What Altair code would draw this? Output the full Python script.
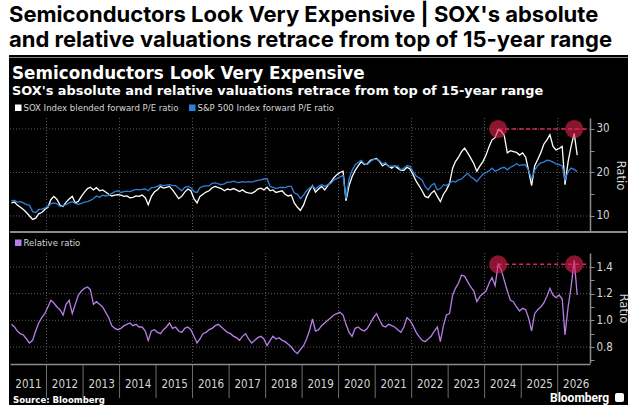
import altair as alt
import pandas as pd

# ---------------- data ----------------
HEAD1 = "Semiconductors Look Very Expensive | SOX's absolute"
HEAD2 = "and relative valuations retrace from top of 15-year range"
TITLE = "Semiconductors Look Very Expensive"
SUBTITLE = "SOX's absolute and relative valuations retrace from top of 15-year range"
LEG_SOX = "SOX Index blended forward P/E ratio"
LEG_SPX = "S&P 500 Index forward P/E ratio"
LEG_REL = "Relative ratio"
SOURCE = "Source:  Bloomberg"
BRAND = "Bloomberg"

# monthly observations, Jan 2011 .. Jul 2026
dates = [f"{y}-{m:02d}-15" for y in range(2011, 2027) for m in range(1, 13)][:187]

sox = [
    13.0, 13.2, 12.5, 12.0, 11.5, 10.8, 10.0, 9.2, 9.5, 10.5, 10.8, 11.5,   # 2011
    12.0, 13.8, 14.5, 13.8, 12.5, 12.2, 13.2, 13.9, 14.5, 13.0, 13.4, 14.5,  # 2012
    15.5, 16.3, 16.6, 16.0, 16.5, 15.8, 16.0, 15.5, 15.0, 14.6, 14.8, 14.9,  # 2013
    14.8, 14.5, 14.6, 14.2, 14.3, 14.6, 14.5, 14.8, 14.2, 12.6, 14.5, 15.5,  # 2014
    16.0, 16.8, 16.4, 16.6, 16.8, 16.0, 15.0, 14.0, 14.5, 15.5, 16.2, 15.8,  # 2015
    14.0, 13.0, 14.5, 15.0, 15.5, 15.8, 16.5, 16.8, 16.5, 16.3, 15.8, 16.2,  # 2016
    16.0, 16.3, 16.0, 15.6, 16.0, 15.5, 15.3, 15.2, 15.6, 16.2, 16.4, 16.0,  # 2017
    16.6, 15.8, 16.0, 15.4, 15.6, 15.8, 15.0, 14.6, 14.8, 13.0, 12.0, 11.3,  # 2018
    12.5, 14.5, 15.8, 17.0, 15.5, 16.2, 16.8, 16.0, 17.0, 17.8, 18.8, 19.5,  # 2019
    20.0, 20.3, 13.5, 17.0, 19.0, 20.5, 21.5, 22.5, 21.8, 22.0, 22.8, 23.0,  # 2020
    23.2, 22.5, 21.5, 22.0, 21.5, 21.0, 21.5, 21.0, 20.5, 20.5, 21.2, 20.8,  # 2021
    19.5, 18.0, 17.0, 15.8, 14.5, 14.2, 15.2, 15.8, 14.5, 13.3, 15.0, 16.0,  # 2022
    17.5, 21.0, 22.5, 23.5, 24.8, 25.6, 24.5, 23.3, 22.0, 20.3, 21.5, 22.5,  # 2023
    24.0, 26.0, 27.5, 28.0, 29.8, 29.5, 28.5, 24.5, 25.0, 24.8, 24.6, 24.0,  # 2024
    24.5, 23.5, 20.5, 17.0, 21.5, 23.0, 24.5, 26.5, 27.5, 28.7, 26.0, 25.2,  # 2025
    25.5, 26.0, 17.2, 22.5, 26.0, 29.0, 24.0,                                # 2026
]

spx = [
    13.5, 13.6, 13.2, 13.3, 13.0, 12.6, 12.5, 11.0, 10.8, 11.5, 11.6, 11.8,  # 2011
    12.2, 12.8, 13.0, 12.8, 12.2, 12.4, 12.6, 13.0, 13.3, 12.9, 12.7, 12.9,  # 2012
    13.2, 13.3, 13.6, 14.0, 14.6, 14.3, 14.8, 14.6, 14.8, 15.2, 15.6, 15.8,  # 2013
    15.4, 15.6, 15.7, 15.6, 15.9, 16.1, 16.0, 16.1, 16.2, 15.8, 16.5, 16.6,  # 2014
    16.8, 17.2, 17.0, 17.1, 17.2, 17.0, 17.0, 16.4, 15.8, 16.6, 16.8, 16.5,  # 2015
    15.6, 15.4, 16.5, 16.8, 16.9, 16.9, 17.5, 17.6, 17.4, 17.2, 17.4, 17.8,  # 2016
    17.8, 18.0, 17.8, 17.7, 17.9, 17.8, 17.9, 17.8, 18.0, 18.2, 18.3, 18.5,  # 2017
    18.6, 16.8, 16.6, 16.3, 16.5, 16.6, 16.5, 16.8, 16.8, 15.3, 15.0, 14.0,  # 2018
    14.8, 15.8, 16.4, 16.9, 16.2, 16.8, 17.2, 16.8, 17.2, 17.5, 18.3, 18.6,  # 2019
    19.0, 19.3, 14.0, 18.5, 20.5, 21.8, 22.3, 22.8, 22.0, 21.8, 22.5, 23.0,  # 2020
    23.0, 22.7, 22.0, 22.3, 21.3, 21.5, 21.4, 21.5, 20.6, 21.0, 21.6, 21.4,  # 2021
    20.2, 19.2, 18.8, 18.3, 16.8, 16.0, 17.0, 17.5, 16.0, 16.3, 17.2, 17.0,  # 2022
    17.6, 18.0, 17.8, 18.3, 18.5, 19.2, 19.8, 19.0, 18.5, 17.9, 18.8, 19.6,  # 2023
    20.0, 20.4, 21.0, 20.3, 20.6, 21.0, 21.2, 20.6, 21.2, 21.5, 22.0, 21.6,  # 2024
    21.8, 21.7, 20.5, 18.5, 20.5, 21.6, 22.2, 22.4, 22.8, 22.7, 22.4, 22.0,  # 2025
    21.8, 21.5, 18.3, 20.2, 21.0, 20.7, 20.2,                                # 2026
]

rel = [
    0.97, 0.95, 0.92, 0.90, 0.89, 0.86, 0.83, 0.85, 0.92, 0.98, 1.02, 1.05,  # 2011
    1.10, 1.15, 1.13, 1.10, 1.08, 1.04, 1.12, 1.15, 1.05, 1.12, 1.19, 1.22,  # 2012
    1.24, 1.25, 1.23, 1.12, 1.14, 1.12, 1.10, 1.06, 1.02, 0.96, 0.94, 0.93,  # 2013
    0.94, 0.96, 0.97, 0.98, 0.96, 0.97, 0.95, 0.95, 0.92, 0.85, 0.92, 0.93,  # 2014
    0.91, 0.90, 0.93, 0.95, 0.98, 0.94, 0.95, 0.92, 0.91, 0.94, 0.95, 0.93,  # 2015
    0.88, 0.83, 0.86, 0.90, 0.91, 0.93, 0.94, 0.96, 0.97, 0.95, 0.93, 0.91,  # 2016
    0.90, 0.88, 0.87, 0.85, 0.88, 0.90, 0.86, 0.83, 0.85, 0.87, 0.88, 0.86,  # 2017
    0.81, 0.85, 0.88, 0.86, 0.87, 0.85, 0.84, 0.82, 0.80, 0.77, 0.75, 0.78,  # 2018
    0.81, 0.86, 0.92, 1.01, 0.92, 0.93, 0.96, 0.98, 1.00, 1.02, 1.04, 1.05,  # 2019
    1.06, 1.04, 0.97, 0.91, 0.88, 0.94, 0.95, 0.93, 0.92, 0.94, 0.98, 1.02,  # 2020
    1.05, 1.00, 0.96, 0.95, 0.97, 0.96, 0.95, 0.93, 0.91, 0.95, 1.02, 1.00,  # 2021
    0.96, 0.91, 0.88, 0.85, 0.84, 0.86, 0.88, 0.92, 0.95, 0.84, 0.96, 1.04,  # 2022
    1.05, 1.19, 1.24, 1.28, 1.34, 1.33, 1.29, 1.25, 1.22, 1.14, 1.18, 1.20,  # 2023
    1.22, 1.28, 1.32, 1.26, 1.42, 1.38, 1.30, 1.22, 1.15, 1.14, 1.10, 1.07,  # 2024
    1.09, 1.08, 1.02, 0.92, 1.05, 1.08, 1.10, 1.13, 1.18, 1.24, 1.19, 1.17,  # 2025
    1.19, 1.16, 0.89, 1.10, 1.25, 1.45, 1.19,                                # 2026
]

axis_years = list(range(2011, 2027))
grid_years = [2012, 2014, 2016, 2018, 2020, 2022, 2024, 2026]
tick_years = list(range(2012, 2027))
top_ticks = [10, 15, 20, 25, 30]
top_grid = [10, 20, 30]
bot_ticks = [0.7, 0.8, 0.9, 1.0, 1.1, 1.2, 1.3, 1.4]
bot_grid = [0.8, 1.0, 1.2, 1.4]
peak_dates = ["2024-05-15", "2026-06-15"]
peak_top = 30
peak_rel = 1.42

# ---------------- styling ----------------
SMALL_FONT = "DejaVu Sans Condensed, Roboto Condensed, Roboto, sans-serif"
BOLD_FONT = "DejaVu Sans"
HEAD_FONT = "Inter"
GRID = "#5a5a5a"
AXIS = "#8c8c8c"
LABEL = "#d6d6d6"
WHITE_LINE = "#ffffff"
BLUE_LINE = "#2f80d8"
PURPLE_LINE = "#b77ee8"
RED = "#e62350"

W, H = 580, 364

main_df = pd.DataFrame({"date": dates, "sox": sox, "spx": spx, "rel": rel})
one = pd.DataFrame({"k": [0]})

xs = alt.Scale(domain=[alt.DateTime(year=2011, month=1, date=1),
                       alt.DateTime(year=2026, month=11, date=20)])
top_scale = alt.Scale(domain=[6.32, 32.52], range=[232, 118], nice=False, zero=False)
bot_scale = alt.Scale(domain=[0.68, 1.505], range=[363, 253], nice=False, zero=False)


def text_layer(txt, x, y, size, color, font, weight="normal"):
    return alt.Chart(pd.DataFrame({"t": [txt]})).mark_text(
        align="left", baseline="alphabetic", fontSize=size, color=color,
        font=font, fontWeight=weight
    ).encode(text="t:N", x=alt.value(x), y=alt.value(y))


def box(x, x2, y, y2, color, **kw):
    return alt.Chart(one).mark_rect(color=color, **kw).encode(
        x=alt.value(x), x2=alt.value(x2), y=alt.value(y), y2=alt.value(y2))


layers = []
# black panel + header rule
layers.append(box(-1, 618, 58, 405, "black"))
layers.append(box(-1, 618, 55, 57.5, "black"))

# headline
layers.append(text_layer(HEAD1, -1, 22, 22, "black", HEAD_FONT, "bold"))
layers.append(text_layer(HEAD2, -1, 47, 22, "black", HEAD_FONT, "bold"))
# inner title / subtitle
layers.append(text_layer(TITLE, 2, 79, 16.8, "white", BOLD_FONT, "bold"))
layers.append(text_layer(SUBTITLE, 2, 95, 12.9, "white", BOLD_FONT, "bold"))
# legends
layers.append(box(5, 11.5, 104.5, 111, WHITE_LINE))
layers.append(text_layer(LEG_SOX, 13.5, 111, 9.5, LABEL, SMALL_FONT))
layers.append(box(179, 185.5, 104.5, 111, BLUE_LINE))
layers.append(text_layer(LEG_SPX, 187.5, 111, 9.5, LABEL, SMALL_FONT))
layers.append(box(5, 11.5, 239.5, 246, PURPLE_LINE))
layers.append(text_layer(LEG_REL, 13.5, 246, 9.5, LABEL, SMALL_FONT))
# footer
layers.append(text_layer(SOURCE, 3, 403, 9.5, "white", SMALL_FONT, "bold"))
layers.append(text_layer(BRAND, 540, 402, 12, "white", "Roboto", "bold"))
layers.append(box(605, 614, 393, 402, "white", cornerRadius=2))

# vertical grid (both panels)
grid_df = pd.DataFrame({"d": [f"{y}-01-01" for y in grid_years]})
vg = alt.Chart(grid_df).mark_rule(color=GRID, strokeDash=[1, 2], strokeWidth=1)
layers.append(vg.encode(x=alt.X("d:T", scale=xs, axis=None), y=alt.value(118), y2=alt.value(231)))
layers.append(vg.encode(x=alt.X("d:T", scale=xs, axis=None), y=alt.value(253), y2=alt.value(363)))

# horizontal grid
layers.append(alt.Chart(pd.DataFrame({"v": top_grid})).mark_rule(
    color=GRID, strokeDash=[1, 2]).encode(
    y=alt.Y("v:Q", scale=top_scale, axis=None), x=alt.value(0), x2=alt.value(W)))
layers.append(alt.Chart(pd.DataFrame({"v": bot_grid})).mark_rule(
    color=GRID, strokeDash=[1, 2]).encode(
    y=alt.Y("v:Q", scale=bot_scale, axis=None), x=alt.value(0), x2=alt.value(W)))

# panel separator and year tick lines
layers.append(alt.Chart(one).mark_rule(color=AXIS, strokeWidth=2).encode(
    x=alt.value(0), x2=alt.value(617), y=alt.value(232)))
tick_df = pd.DataFrame({"d": [f"{y}-01-01" for y in tick_years]})
layers.append(alt.Chart(tick_df).mark_rule(color="#6e6e6e", strokeWidth=1).encode(
    x=alt.X("d:T", scale=xs, axis=None), y=alt.value(364), y2=alt.value(398)))

# dashed reference lines
layers.append(alt.Chart(pd.DataFrame({"d": [peak_dates[0]], "v": [peak_top]})).mark_rule(
    color=RED, strokeDash=[4, 3], strokeWidth=1.5).encode(
    x=alt.X("d:T", scale=xs, axis=None), x2=alt.value(W - 2),
    y=alt.Y("v:Q", scale=top_scale, axis=None)))
layers.append(alt.Chart(pd.DataFrame({"d": [peak_dates[0]], "v": [peak_rel]})).mark_rule(
    color=RED, strokeDash=[4, 3], strokeWidth=1.5).encode(
    x=alt.X("d:T", scale=xs, axis=None), x2=alt.value(W - 2),
    y=alt.Y("v:Q", scale=bot_scale, axis=None)))

base = alt.Chart(main_df)
# lines
layers.append(base.mark_line(color=WHITE_LINE, strokeWidth=1.3).encode(
    x=alt.X("date:T", scale=xs, axis=None),
    y=alt.Y("sox:Q", scale=top_scale, axis=None)))

y_axis_common = dict(
    orient="right", grid=False, domainColor=AXIS, domainWidth=1.5, tickColor=AXIS,
    tickSize=4, labelColor=LABEL, labelFont=SMALL_FONT, labelFontSize=11.5,
    labelPadding=2, title="Ratio", titleAngle=90, titleColor=LABEL,
    titleFont=SMALL_FONT, titleFontSize=13, titleFontWeight="normal", titlePadding=4,
    zindex=2,
)
layers.append(base.mark_line(color=BLUE_LINE, strokeWidth=1.3).encode(
    x=alt.X("date:T", scale=xs, axis=None),
    y=alt.Y("spx:Q", scale=top_scale, axis=alt.Axis(
        values=top_ticks, labelExpr="datum.value % 10 == 0 ? datum.label : ''",
        **y_axis_common))))
layers.append(base.mark_line(color=PURPLE_LINE, strokeWidth=1.3).encode(
    x=alt.X("date:T", scale=xs, axis=alt.Axis(
        values=[alt.DateTime(year=y, month=1, date=1) for y in axis_years],
        format="%Y", labelOffset=18, labelAlign="center", labelFlush=False,
        labelOverlap=False, labelBound=False, ticks=False, grid=False,
        domainColor=AXIS, domainWidth=1.5, labelColor=LABEL, labelFont=SMALL_FONT,
        labelFontSize=11.5, labelPadding=14, title=None, zindex=2)),
    y=alt.Y("rel:Q", scale=bot_scale, axis=alt.Axis(
        values=bot_ticks,
        labelExpr="round(datum.value * 10) % 2 == 0 ? format(datum.value, '.1f') : ''",
        **y_axis_common))))

# highlight circles
circ_top = pd.DataFrame({"d": peak_dates, "v": [peak_top, peak_top]})
circ_bot = pd.DataFrame({"d": peak_dates, "v": [peak_rel, peak_rel]})
layers.append(alt.Chart(circ_top).mark_circle(size=330, color=RED, opacity=0.6).encode(
    x=alt.X("d:T", scale=xs, axis=None), y=alt.Y("v:Q", scale=top_scale, axis=None)))
layers.append(alt.Chart(circ_bot).mark_circle(size=330, color=RED, opacity=0.6).encode(
    x=alt.X("d:T", scale=xs, axis=None), y=alt.Y("v:Q", scale=bot_scale, axis=None)))

chart = alt.layer(*layers).resolve_scale(y="independent").resolve_axis(
    x="independent", y="independent").properties(
    width=W, height=H,
    padding={"left": 10, "top": 0, "right": 45, "bottom": 46},
    autosize=alt.AutoSizeParams(type="none"),
    background="white",
).configure_view(stroke=None)

chart.save("out.html", embed_options={"renderer": "svg", "actions": False})
